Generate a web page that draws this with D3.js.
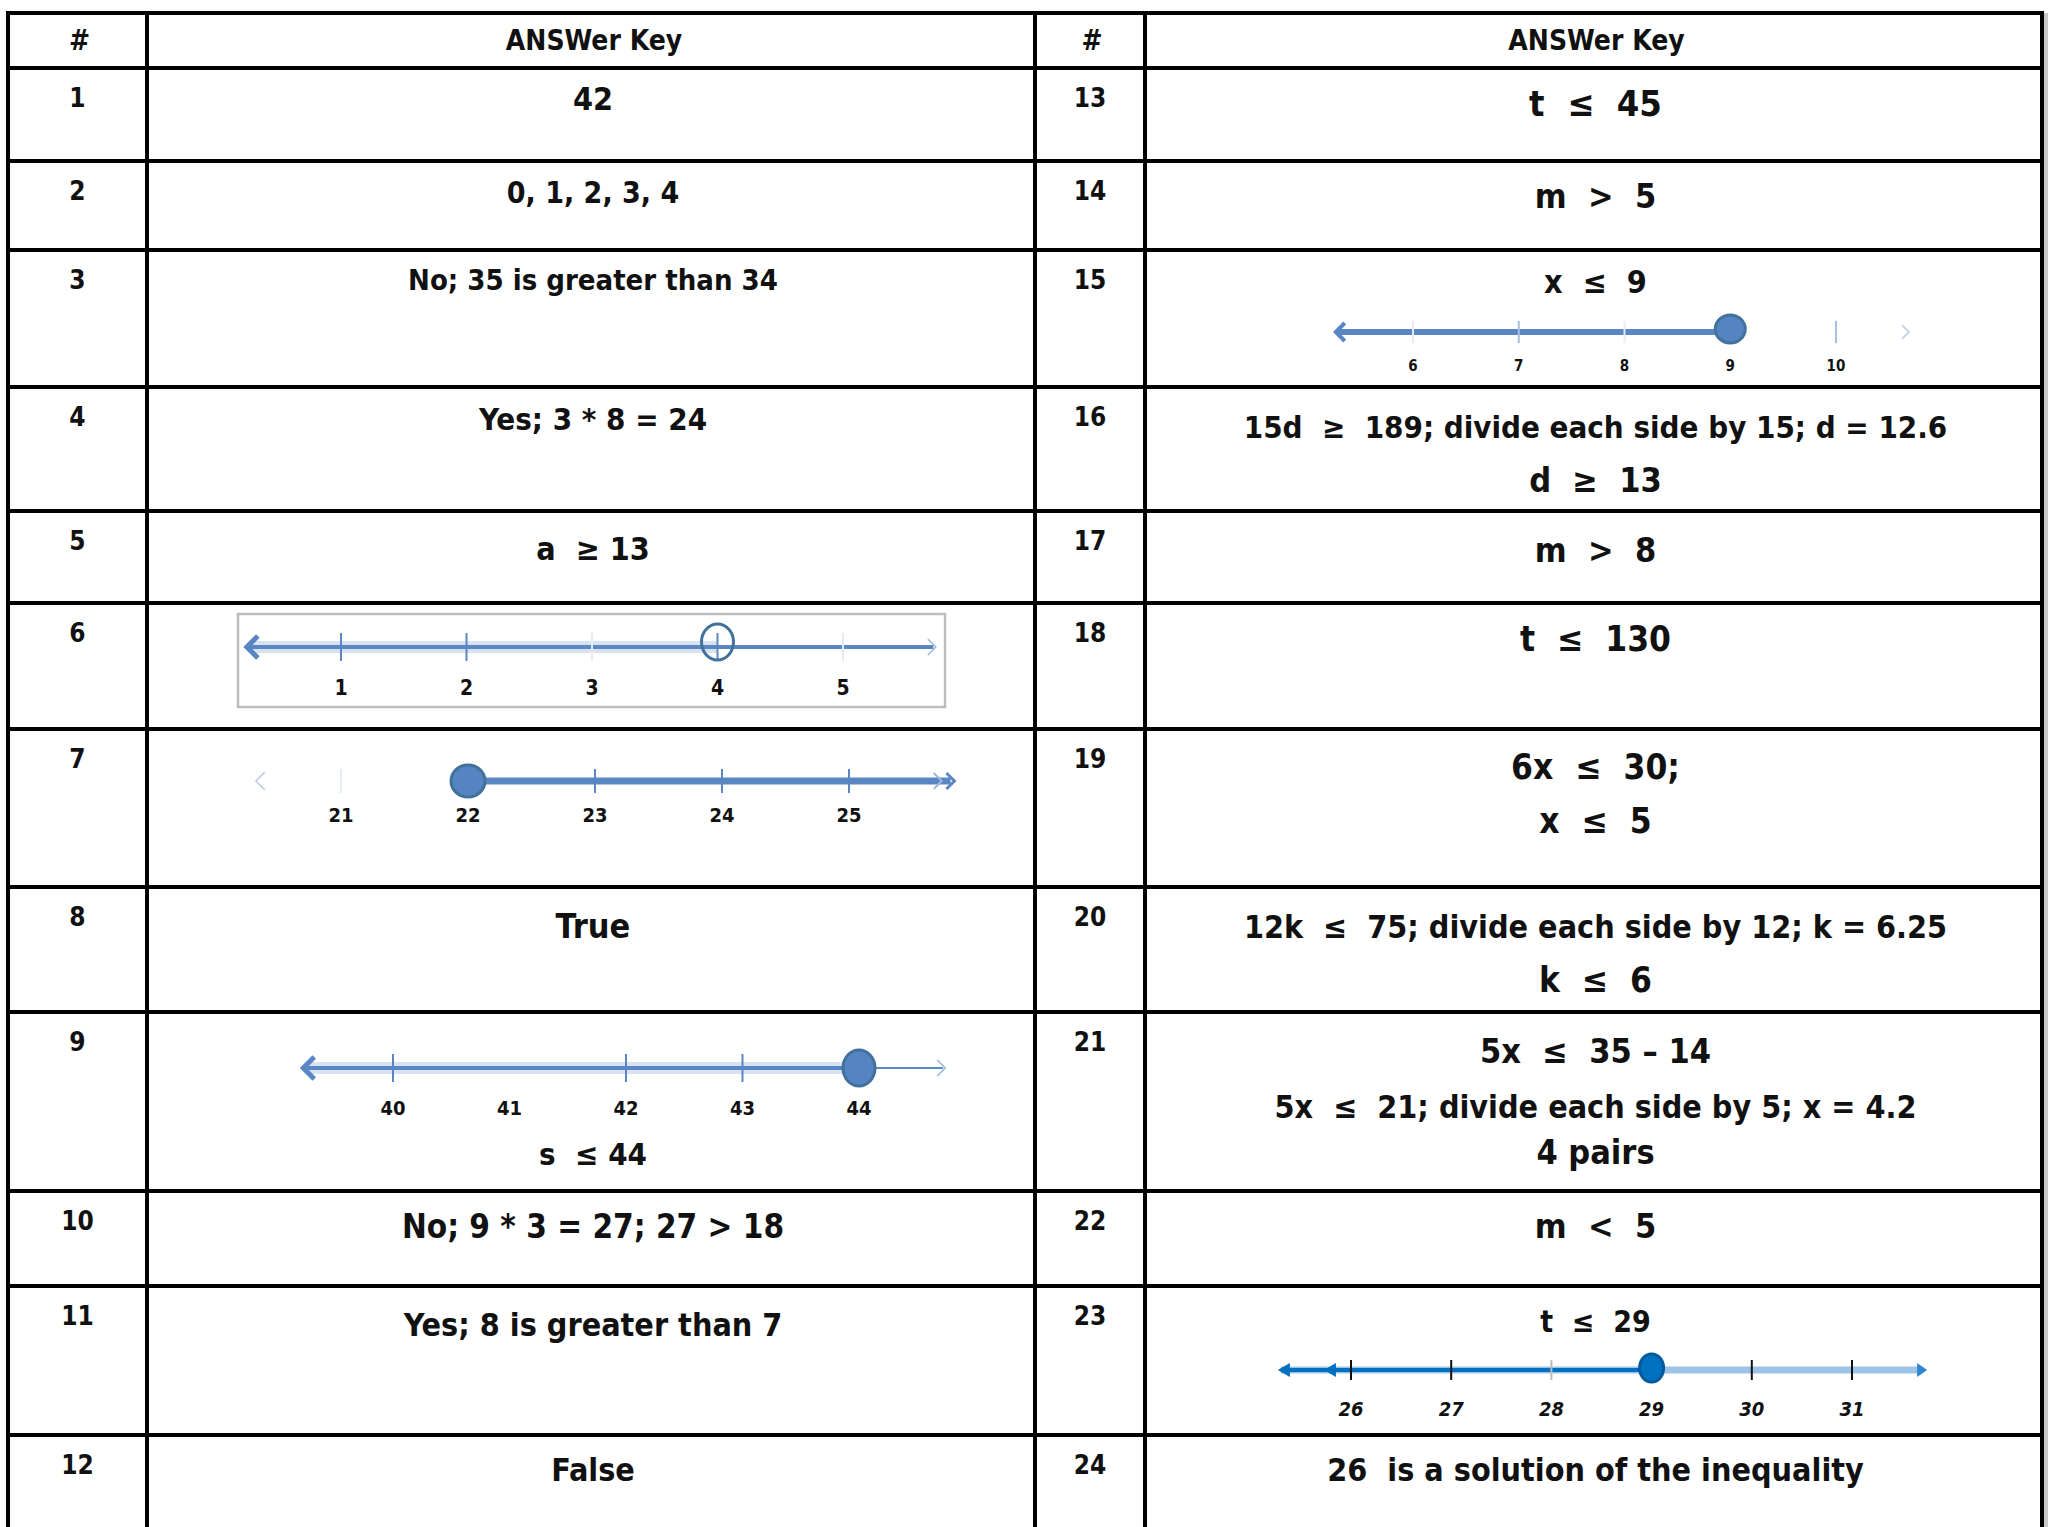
<!DOCTYPE html>
<html>
<head>
<meta charset="utf-8">
<script src="https://cdn.jsdelivr.net/npm/d3@7"></script>
<style>
  body { margin: 0; background: #fff; }
  text { white-space: pre; }
</style>
</head>
<body>
<div id="chart"></div>
<script>
// ---- data ----
const headers = ["#", "ANSWer Key", "#", "ANSWer Key"];
const leftNumbers = ["1", "2", "3", "4", "5", "6", "7", "8", "9", "10", "11", "12"];
const rightNumbers = ["13", "14", "15", "16", "17", "18", "19", "20", "21", "22", "23", "24"];

const leftAnswers = [
  ["42"],
  ["0, 1, 2, 3, 4"],
  ["No; 35 is greater than 34"],
  ["Yes; 3 * 8 = 24"],
  ["a  ≥ 13"],
  [],
  [],
  ["True"],
  ["s  ≤ 44"],
  ["No; 9 * 3 = 27; 27 > 18"],
  ["Yes; 8 is greater than 7"],
  ["False"]
];
const rightAnswers = [
  ["t  ≤  45"],
  ["m  >  5"],
  ["x  ≤  9"],
  ["15d  ≥  189; divide each side by 15; d = 12.6", "d  ≥  13"],
  ["m  >  8"],
  ["t  ≤  130"],
  ["6x  ≤  30;", "x  ≤  5"],
  ["12k  ≤  75; divide each side by 12; k = 6.25", "k  ≤  6"],
  ["5x  ≤  35 – 14", "5x  ≤  21; divide each side by 5; x = 4.2", "4 pairs"],
  ["m  <  5"],
  ["t  ≤  29"],
  ["26  is a solution of the inequality"]
];

// number lines: tick values and the marked point
const line6Ticks = [1, 2, 3, 4, 5], line6Point = 4;
const line7Ticks = [21, 22, 23, 24, 25], line7Point = 22;
const line9Ticks = [40, 41, 42, 43, 44], line9Point = 44;
const line15Ticks = [6, 7, 8, 9, 10], line15Point = 9;
const line23Ticks = [26, 27, 28, 29, 30, 31], line23Point = 29;

// ---- layout ----
const width = 2051, height = 1527;
const rowEdges = [13, 68, 161, 250, 387, 511, 603, 729, 887, 1012, 1191, 1286, 1435, 1580];
const colEdges = [8, 147, 1035, 1145, 2042];
const font = "'DejaVu Sans Condensed', 'DejaVu Sans', sans-serif";

// [baseline offset from row top, font size] per text line
const leftLayout = [
  [[42, 32]], [[42, 30]], [[40, 29]], [[43, 31]], [[49, 32]], [], [],
  [[51, 34]], [[153, 31]], [[47, 33]], [[50, 32]], [[46, 32]]
];
const rightLayout = [
  [[48, 36]], [[47, 34]], [[43, 32]], [[51, 31], [105, 34]], [[51, 34]], [[48, 35]],
  [[50, 35], [104, 35]], [[51, 32], [105, 35]], [[51, 34], [106, 32], [152, 34]],
  [[47, 34]], [[46, 30]], [[46, 32]]
];

const svg = d3.select("#chart")
  .append("svg")
    .attr("width", width)
    .attr("height", height);

svg.append("rect").attr("width", width).attr("height", height).attr("fill", "#fff");

// light shadow on the right edge
svg.append("line")
  .attr("x1", colEdges[4] + 4).attr("x2", colEdges[4] + 4)
  .attr("y1", rowEdges[0]).attr("y2", height)
  .attr("stroke", "#c8c8c8").attr("stroke-width", 4);

// header + answer text
const colCenter = i => (colEdges[i] + colEdges[i + 1]) / 2;

headers.forEach((h, i) => {
  svg.append("text")
    .attr("x", colCenter(i) + (i % 2 ? 3 : 2))
    .attr("y", 50)
    .attr("text-anchor", "middle")
    .attr("font-family", font)
    .attr("font-weight", "bold")
    .attr("font-size", 28)
    .attr("fill", "#111")
    .text(h);
});

function writeColumn(numbers, answers, layout, numCol, ansCol) {
  numbers.forEach((n, r) => {
    const top = rowEdges[r + 1];
    svg.append("text")
      .attr("x", colCenter(numCol))
      .attr("y", top + 39)
      .attr("text-anchor", "middle")
      .attr("font-family", font)
      .attr("font-weight", "bold")
      .attr("font-size", 26)
      .attr("fill", "#111")
      .text(n);
    answers[r].forEach((line, k) => {
      svg.append("text")
        .attr("x", colCenter(ansCol) + 2)
        .attr("y", top + layout[r][k][0])
        .attr("text-anchor", "middle")
        .attr("font-family", font)
        .attr("font-weight", "bold")
        .attr("font-size", layout[r][k][1])
        .attr("fill", "#111")
        .text(line);
    });
  });
}
writeColumn(leftNumbers, leftAnswers, leftLayout, 0, 1);
writeColumn(rightNumbers, rightAnswers, rightLayout, 2, 3);

// ---- number lines ----
const blue = "#5a87c4", darkBlue = "#41719c", band = "#d7e3f3", faint = "#e4ebf5";

function chevron(g, x, y, dir, size, color, w) {
  g.append("path")
    .attr("d", `M${x + dir * size},${y - size} L${x},${y} L${x + dir * size},${y + size}`)
    .attr("fill", "none").attr("stroke", color).attr("stroke-width", w)
    .attr("stroke-linejoin", "miter");
}

function seg(g, x1, x2, y, color, w) {
  g.append("line").attr("x1", x1).attr("x2", x2).attr("y1", y).attr("y2", y)
    .attr("stroke", color).attr("stroke-width", w);
}

function ticksAndLabels(g, x, ticks, y, opt) {
  ticks.forEach(t => {
    if (!(opt.hidden || []).includes(t)) {
      g.append("line")
        .attr("class", "tick")
        .attr("x1", x(t)).attr("x2", x(t))
        .attr("y1", y - opt.tickH).attr("y2", y + opt.tickH)
        .attr("stroke", (opt.faint || []).includes(t) ? faint : (opt.tickColor || blue))
        .attr("stroke-width", opt.tickW || 2);
    }
    g.append("text")
      .attr("x", x(t))
      .attr("y", y + opt.labelDy)
      .attr("text-anchor", "middle")
      .attr("font-family", font)
      .attr("font-weight", "bold")
      .attr("font-size", opt.labelSize)
      .attr("font-style", opt.italic ? "italic" : "normal")
      .attr("fill", "#111")
      .text(t);
  });
}

function dot(g, cx, cy, rx, ry, fill, stroke) {
  g.append("ellipse")
    .attr("cx", cx).attr("cy", cy).attr("rx", rx).attr("ry", ry)
    .attr("fill", fill).attr("stroke", stroke).attr("stroke-width", 3);
}

// problem 6 : open circle at 4, shaded left, framed
{
  const g = svg.append("g"), y = 647;
  const x = d3.scaleLinear().domain(d3.extent(line6Ticks)).range([341, 843]);
  g.append("rect").attr("x", 238).attr("y", 614).attr("width", 707).attr("height", 93)
    .attr("fill", "none").attr("stroke", "#bdbdbd").attr("stroke-width", 2.5);
  seg(g, x(0.27), x(line6Point), y, band, 12);
  seg(g, x(0.25), x(5.72), y, blue, 4);
  chevron(g, x(0.25), y, 1, 11, blue, 5);
  chevron(g, x(5.74), y, -1, 8, "#9db7dc", 1.5);
  ticksAndLabels(g, x, line6Ticks, y, { tickH: 14, labelDy: 48, labelSize: 21, faint: [3, 5] });
  dot(g, x(line6Point), y - 5, 16, 18, "none", darkBlue);
}

// problem 7 : closed circle at 22, ray to the right
{
  const g = svg.append("g"), y = 781;
  const x = d3.scaleLinear().domain(d3.extent(line7Ticks)).range([341, 849]);
  chevron(g, x(20.33), y, 1, 9, "#b7cae6", 1.5);
  seg(g, x(line7Point), x(25.8), y, blue, 7);
  chevron(g, x(25.83), y, -1, 8, blue, 3);
  chevron(g, x(25.73), y, -1, 8, "#9db7dc", 2);
  ticksAndLabels(g, x, line7Ticks, y, { tickH: 12, labelDy: 41, labelSize: 20, faint: [21] });
  dot(g, x(line7Point), y, 17, 16, "#5584c2", darkBlue);
}

// problem 9 : closed circle at 44, shaded left
{
  const g = svg.append("g"), y = 1068;
  const x = d3.scaleLinear().domain(d3.extent(line9Ticks)).range([393, 859]);
  seg(g, x(39.26), x(line9Point), y, band, 12);
  seg(g, x(39.23), x(line9Point), y, blue, 4);
  seg(g, x(line9Point), x(44.72), y, blue, 2);
  chevron(g, x(39.23), y, 1, 11, blue, 5);
  chevron(g, x(44.74), y, -1, 8, "#9db7dc", 1.5);
  ticksAndLabels(g, x, line9Ticks, y, { tickH: 14, labelDy: 47, labelSize: 20, hidden: [41], faint: [] });
  dot(g, x(line9Point), y, 16, 18, "#5584c2", darkBlue);
}

// problem 15 : closed circle at 9, ray to the left
{
  const g = svg.append("g"), y = 332;
  const x = d3.scaleLinear().domain(d3.extent(line15Ticks)).range([1413, 1836]);
  seg(g, x(5.29), x(line15Point), y, blue, 6);
  chevron(g, x(5.27), y, 1, 9, blue, 4);
  chevron(g, x(10.69), y, -1, 7, "#b7cae6", 1.5);
  ticksAndLabels(g, x, line15Ticks, y, { tickH: 11, labelDy: 39, labelSize: 15, faint: [6, 8], tickColor: "#a9c0e2" });
  dot(g, x(line15Point), y - 3, 15, 14, "#5584c2", darkBlue);
}

// problem 23 : closed circle at 29, ray to the left
{
  const g = svg.append("g"), y = 1370;
  const x = d3.scaleLinear().domain(d3.extent(line23Ticks)).range([1351, 1852]);
  seg(g, x(25.3), x(31.7), y, "#9dc3e6", 7);
  seg(g, x(25.3), x(line23Point), y, "#0070c0", 4);
  [25.27, 25.73].forEach(v => {
    g.append("path")
      .attr("d", `M${x(v)},${y} l12,-7 l0,14 z`)
      .attr("fill", "#0070c0");
  });
  g.append("path").attr("d", `M${x(31.75)},${y} l-10,-7 l0,14 z`).attr("fill", "#2e86d0");
  ticksAndLabels(g, x, line23Ticks, y, {
    tickH: 10, labelDy: 46, labelSize: 20, italic: true, tickColor: "#111",
    tickW: 2, faint: []
  });
  g.selectAll("line.tick").filter(function () { return +d3.select(this).attr("x1") === x(28); })
    .attr("stroke", "#bbb");
  dot(g, x(line23Point), y - 2, 12, 14, "#0070c0", "#005a9e");
}

// ---- grid lines ----
rowEdges.slice(0, -1).forEach(yy => {
  svg.append("line")
    .attr("x1", colEdges[0] - 2).attr("x2", colEdges[4] + 2)
    .attr("y1", yy).attr("y2", yy)
    .attr("stroke", "#000").attr("stroke-width", 4);
});
colEdges.forEach(xx => {
  svg.append("line")
    .attr("x1", xx).attr("x2", xx)
    .attr("y1", rowEdges[0] - 2).attr("y2", height)
    .attr("stroke", "#000").attr("stroke-width", 4);
});
</script>
</body>
</html>
